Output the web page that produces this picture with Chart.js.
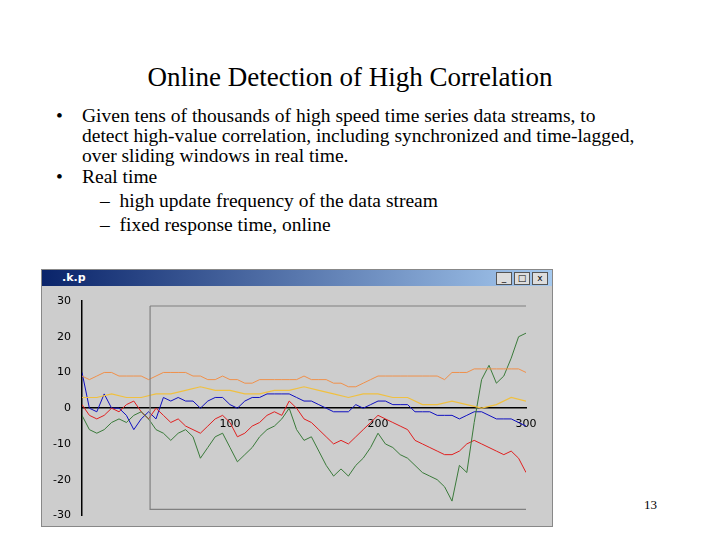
<!DOCTYPE html><html><head><meta charset="utf-8">
<script src="https://cdn.jsdelivr.net/npm/chart.js@4"></script>
<style>
body{margin:0;width:720px;height:540px;background:#fff;position:relative;font-family:"Liberation Serif",serif;overflow:hidden}
#t{position:absolute;top:62px;left:0;width:700px;text-align:center;font-size:27px}
.l{position:absolute;font-size:19.5px;line-height:20px;white-space:nowrap}
#win{position:absolute;left:41px;top:269px;width:510px;height:256px;background:#cdcdcd;border:1px solid #888}
#bar{height:16px;background:linear-gradient(90deg,#0a246a,#a6caf0);color:#fff;font:bold 11px "DejaVu Sans";line-height:16px;padding-left:20px}
#btn{position:absolute;right:4px;top:2px;font:9px "DejaVu Sans";}
#btn span{display:inline-block;width:14px;height:11px;background:#ddd;border:1px solid #555;margin-left:2px;color:#000;text-align:center;line-height:11px}
#c{position:absolute;left:0;top:17px}
</style></head><body>
<div id="t">Online Detection of High Correlation</div>
<div class="l" style="left:56px;top:106px">•</div>
<div class="l" style="left:82px;top:106px">Given tens of thousands of high speed time series data streams, to<br>detect high-value correlation, including synchronized and time-lagged,<br>over sliding windows in real time.</div>
<div class="l" style="left:56px;top:167px">•</div>
<div class="l" style="left:82px;top:167px">Real time</div>
<div class="l" style="left:100px;top:191px">–&nbsp;&nbsp;high update frequency of the data stream</div>
<div class="l" style="left:100px;top:215px">–&nbsp;&nbsp;fixed response time, online</div>
<div style="position:absolute;left:644px;top:497px;font-size:13px">13</div>
<div id="win"><div id="bar">.k.p</div><div id="btn"><span>_</span><span>□</span><span>x</span></div>
<canvas id="c" width="508" height="238" style="width:508px;height:238px"></canvas></div>
<script>
const xs=[0,5,10,15,20,25,30,35,40,45,50,55,60,65,70,75,80,85,90,95,100,105,110,115,120,125,130,135,140,145,150,155,160,165,170,175,180,185,190,195,200,205,210,215,220,225,230,235,240,245,250,255,260,265,270,275,280,285,290,295,300];
const green=[-2,-6,-7,-6,-4,-3,-4,-2,-1,-3,-6,-7,-9,-7,-6,-8,-14,-11,-8,-7,-11,-15,-13,-11,-8,-6,-5,-3,0,-6,-9,-8,-12,-16,-19,-17,-19,-16,-14,-11,-7,-10,-11,-13,-14,-16,-18,-19,-20,-22,-26,-16,-18,-4,8,12,7,9,14,20,21];
const red=[1,-2,-3,-2,0,-1,1,2,-1,-3,0,-2,-4,-3,-5,-6,-7,-5,-3,-2,-4,-8,-7,-5,-4,-2,-1,-2,2,0,-3,-4,-6,-8,-10,-9,-10,-8,-6,-4,-2,-3,-4,-5,-6,-9,-10,-11,-12,-13,-13,-12,-10,-9,-10,-11,-12,-13,-12,-14,-18];
const blue=[10,0,-1,4,0,0,-2,-6,-3,-1,-3,3,2,3,2,2,0,2,3,3,1,0,2,3,3,4,4,4,4,3,2,2,1,0,-1,-1,-1,1,0,1,2,2,1,1,1,-1,-1,-1,-2,-2,-2,-3,-2,-1,-1,-2,-3,-3,-3,-4,-5];
const orange=[9,8,9,10,10,9,9,9,9,8,9,10,10,10,10,9,9,8,8,9,8,8,7,7,8,8,8,8,8,8,9,8,8,8,7,7,6,6,7,8,9,9,9,9,9,9,9,9,9,8,10,10,10,11,11,11,11,11,11,11,10];
const yx=[0,10,20,30,40,50,60,70,80,90,100,110,120,130,140,150,160,170,180,190,200,210,220,230,240,250,260,270,280,290,300];
const yellow=[3,3,4,3,3,4,4,5,6,5,5,4,4,5,5,6,5,4,3,4,4,3,3,1,1,2,1,0,1,3,2];
const rectX=[46,301,301,46,46], rectY=[28.6,28.6,-28.3,-28.3,28.6];
const yTicks=[-30,-20,-10,0,10,20,30], xTicks=[100,200,300];
const mk=(x,y,c,w)=>({data:x.map((v,i)=>({x:v,y:y[i]})),borderColor:c,borderWidth:w,pointRadius:0,tension:0});
new Chart(document.getElementById('c'),{type:'line',data:{datasets:[
 mk(rectX,rectY,'#808080',1.2),mk(xs,orange,'#f0904a',1),mk(yx,yellow,'#f0c040',1.2),
 mk(xs,green,'#3a7a3a',1),mk(xs,red,'#e02020',1),mk(xs,blue,'#1010c0',1)]},
options:{animation:false,responsive:false,plugins:{legend:{display:false},tooltip:{enabled:false}},
layout:{padding:{top:14,right:24,bottom:0,left:0}},
scales:{x:{type:'linear',min:0,max:300,position:{y:0},grid:{display:false},border:{color:'#000',width:1.5},
 afterBuildTicks:a=>{a.ticks=xTicks.map(v=>({value:v}))},ticks:{color:'#000',font:{size:11,family:'DejaVu Sans'},padding:1}},
y:{min:-30,max:30,afterFit:a=>{a.width=40},grid:{display:false,drawTicks:true},border:{color:'#000',width:1.5},
 afterBuildTicks:a=>{a.ticks=yTicks.map(v=>({value:v}))},ticks:{color:'#000',font:{size:11,family:'DejaVu Sans'}}}}}});
</script></body></html>
